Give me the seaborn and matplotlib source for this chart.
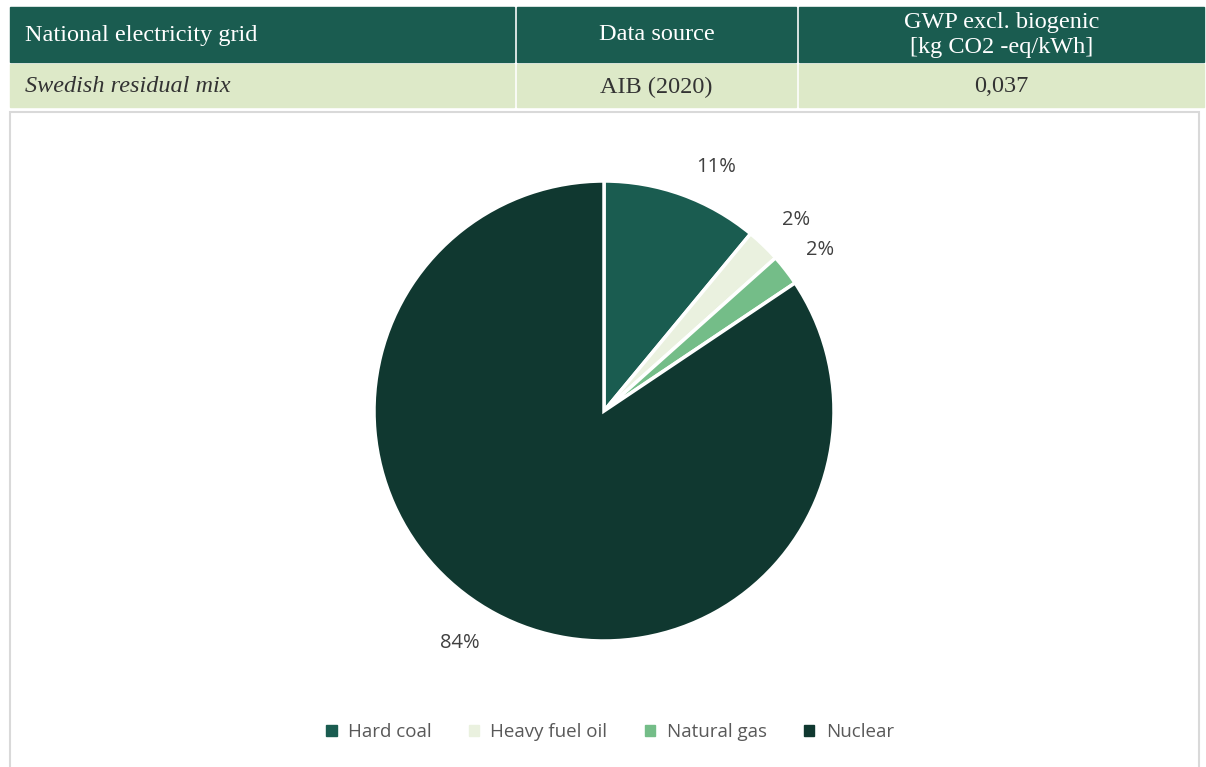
import numpy as np
import pandas as pd
import matplotlib
matplotlib.use("Agg")
import matplotlib.pyplot as plt
from matplotlib.patches import Rectangle
import seaborn as sns

sns.set_style("white")
plt.rcParams['font.family'] = ['Open Sans', 'DejaVu Sans']

# data
sources = ["Hard coal", "Heavy fuel oil", "Natural gas", "Nuclear"]
shares = [11.0, 2.4, 2.2, 84.4]
pct_labels = ["11%", "2%", "2%", "84%"]
colors = ["#1a5c50", "#eaf1df", "#74bd88", "#103830"]

table_header = ["National electricity grid", "Data source", "GWP excl. biogenic\n[kg CO2 -eq/kWh]"]
table_row = ["Swedish residual mix", "AIB (2020)", "0,037"]

W, H = 1206, 767
fig = plt.figure(figsize=(W / 100, H / 100), dpi=100)

def fx(px):
    return px / W

def fy(py):
    return 1 - py / H

# table on top
cols = [(10, 514), (517, 796), (799, 1204)]
hdr_col, row_col = "#1a5c50", "#dde9c8"
serif = ['Liberation Serif', 'DejaVu Serif']
fs = 17.5
for i, (x0, x1) in enumerate(cols):
    fig.patches.append(Rectangle((fx(x0), fy(62)), fx(x1 - x0), 55 / H,
                                 transform=fig.transFigure, color=hdr_col, zorder=0))
    fig.patches.append(Rectangle((fx(x0), fy(107)), fx(x1 - x0), 43 / H,
                                 transform=fig.transFigure, color=row_col, zorder=0))
    if i == 0:
        fig.text(fx(x0 + 15), fy(36), table_header[i], color="white", fontsize=fs,
                 family=serif, ha="left", va="center")
        fig.text(fx(x0 + 15), fy(87), table_row[i], color="#333333", fontsize=fs,
                 family=serif, style="italic", ha="left", va="center")
    else:
        xc = fx((x0 + x1) / 2)
        fig.text(xc, fy(35), table_header[i], color="white", fontsize=fs,
                 family=serif, ha="center", va="center", linespacing=1.3)
        fig.text(xc, fy(87), table_row[i], color="#333333", fontsize=fs,
                 family=serif, ha="center", va="center")

# chart border
fig.patches.append(Rectangle((fx(10), fy(780)), fx(1189), 668 / H, transform=fig.transFigure,
                             fill=False, edgecolor="#d9d9d9", linewidth=1.5, zorder=0))

# pie
ax = fig.add_axes([fx(374), fy(641), fx(460), 460 / H])
wedges, texts, autotexts = ax.pie(shares, colors=colors, startangle=90, counterclock=False,
                                  autopct="%1.0f%%", pctdistance=1.18,
                                  wedgeprops=dict(edgecolor="white", linewidth=2.5))
label_pos = [(0.487, 1.06), (0.835, 0.83), (0.939, 0.70), (-0.626, -1.009)]
for t, lab, pos in zip(autotexts, pct_labels, label_pos):
    t.set_text(lab)
    t.set_fontsize(14.5)
    t.set_color("#404040")
    t.set_position(pos)
ax.set_aspect("equal")
ax.set_xlim(-1, 1)
ax.set_ylim(-1, 1)
ax.axis("off")

# legend
handles = [plt.Rectangle((0, 0), 1, 1, color=c) for c in colors]
fig.legend(handles, sources, loc="center", bbox_to_anchor=(fx(610), fy(732)), ncol=4,
           frameon=False, fontsize=13.5, handlelength=0.55, handleheight=0.55,
           handletextpad=0.6, columnspacing=2.0, labelcolor="#595959")

fig.savefig("out.png", dpi=100)
